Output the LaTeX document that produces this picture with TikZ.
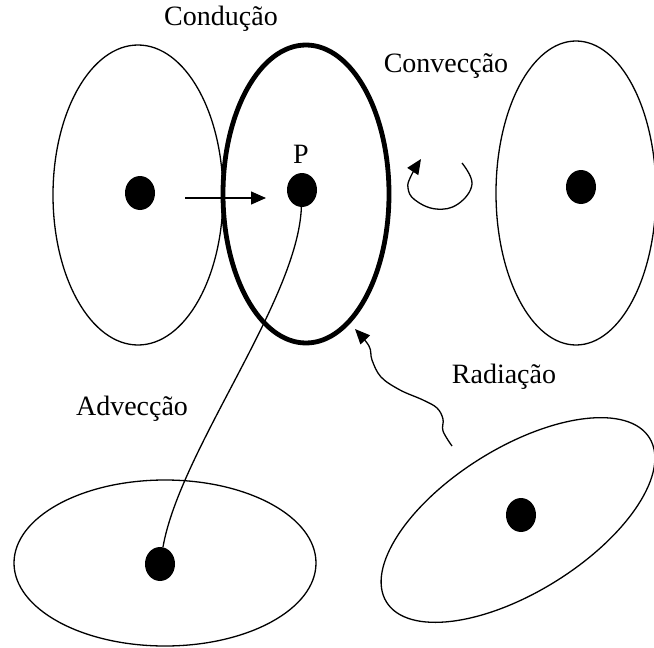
\documentclass[tikz,border=0pt]{standalone}
\usepackage{fontspec}
\setmainfont{Liberation Serif}
\usetikzlibrary{arrows.meta,shapes.geometric}
\begin{document}
\begin{tikzpicture}[x=1pt,y=-1pt,
  region/.style={draw=black,line width=1.3pt},
  focus/.style={draw=black,line width=4.8pt},
  dot/.style={fill=black,ellipse,inner sep=0pt,minimum width=30pt,minimum height=34pt},
  flow/.style={draw=black,line width=1.3pt,-{Triangle[length=15pt,width=13pt]}},
  label/.style={font=\fontsize{28}{32}\selectfont,inner sep=0pt}]
\useasboundingbox (0,0) rectangle (654,648);
% volumes around each point
\draw[region] (138,195) ellipse [x radius=85pt, y radius=150pt];
\draw[region] (576,193) ellipse [x radius=80pt, y radius=152pt];
\draw[region] (165,563) ellipse [x radius=151pt, y radius=83pt];
\draw[region,rotate around={32:(518,520)}] (518,520) ellipse [x radius=155pt, y radius=72pt];
\draw[focus] (306,194) ellipse [x radius=83pt, y radius=149pt];
% points
\node[dot] (ldot) at (140,193) {};
\node[dot] (pdot) at (302,190) {};
\node[dot] (rdot) at (581,187) {};
\node[dot] (adot) at (160,564) {};
\node[dot] (bdot) at (521,515) {};
% labels
\node[label] (lp) at (301,154) {P};
\node[label] (lcond) at (221,19) {Condução};
\node[label] (lconv) at (446,66) {Convecção};
\node[label] (lrad) at (504,377) {Radiação};
\node[label] (ladv) at (132,409) {Advecção};
% conduction
\coordinate (cs) at (185,198);
\coordinate (ce) at (266,198);
\draw[flow] (cs) -- (ce);
% convection curl
\draw[flow] plot[smooth,tension=0.7] coordinates {(462,163) (472,184) (458,204) (436,209) (415,200) (408,188) (411,176) (421,159)};
% radiation
\draw[flow] plot[smooth,tension=0.6] coordinates {(452,446) (443,431) (443,419) (437,408) (423,400) (400,390) (381,377) (372,360) (369,346) (355,329)};
% advection
\draw[region] (pdot) .. controls (298,300) and (180,450) .. (adot);
\end{tikzpicture}
\end{document}
